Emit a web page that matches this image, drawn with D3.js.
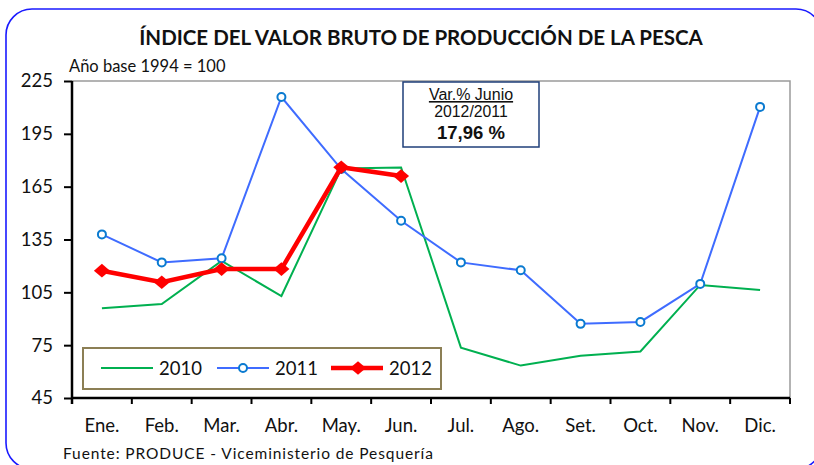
<!DOCTYPE html>
<html>
<head>
<meta charset="utf-8">
<script src="https://cdn.jsdelivr.net/npm/d3@7"></script>
<style>
  body { margin: 0; background: #fff; }
</style>
</head>
<body>
<script>
var months = ["Ene.", "Feb.", "Mar.", "Abr.", "May.", "Jun.", "Jul.", "Ago.", "Set.", "Oct.", "Nov.", "Dic."];
var yTicks = [45, 75, 105, 135, 165, 195, 225];

var values2010 = [96.0, 98.4, 122.8, 102.9, 175.3, 175.9, 73.6, 63.4, 69.0, 71.4, 109.2, 106.3];
var values2011 = [137.9, 122.0, 124.3, 215.9, 175.0, 145.6, 122.0, 117.5, 87.1, 88.2, 109.8, 210.3];
var values2012 = [117.3, 110.7, 118.2, 118.2, 176.0, 171.0];

var seriesNames = ["2010", "2011", "2012"];

var screen = {width: 814, height: 465};
var plot = {left: 72, right: 790, top: 81, bottom: 398};
var arial = "'Liberation Sans', Arial, sans-serif";

var svg = d3.select("body")
            .append("svg")
            .attr("width", screen.width)
            .attr("height", screen.height)
            .attr("font-family", "Lato, 'Open Sans', sans-serif");

// outer rounded frame
svg.append("rect")
   .attr("x", 6)
   .attr("y", 9)
   .attr("width", 816)
   .attr("height", 460)
   .attr("rx", 26)
   .attr("fill", "white")
   .attr("stroke", "#1a1aff")
   .attr("stroke-width", 1.6);

svg.append("text")
   .attr("x", 421)
   .attr("y", 45)
   .attr("text-anchor", "middle")
   .attr("font-weight", "bold")
   .attr("font-size", 20.5)
   .attr("fill", "#111")
   .text("ÍNDICE DEL VALOR BRUTO DE PRODUCCIÓN  DE LA PESCA");

svg.append("text")
   .attr("x", 69)
   .attr("y", 72)
   .attr("font-size", 16.5)
   .attr("fill", "#111")
   .text("Año base 1994 = 100");

svg.append("text")
   .attr("x", 63)
   .attr("y", 459)
   .attr("font-size", 15.5)
   .attr("letter-spacing", 0.9)
   .attr("fill", "#111")
   .text("Fuente:  PRODUCE - Viceministerio de Pesquería");

var x = d3.scaleBand()
          .domain(months)
          .range([plot.left, plot.right]);

var y = d3.scaleLinear()
          .domain([45, 225])
          .range([plot.bottom, plot.top]);

// plot frame (top and right in grey)
svg.append("path")
   .attr("d", "M" + plot.left + "," + plot.top + "H" + plot.right + "V" + plot.bottom)
   .attr("fill", "none")
   .attr("stroke", "#9a9a9a")
   .attr("stroke-width", 1.5);

var yAxis = svg.append("g")
               .attr("transform", "translate(" + plot.left + ",0)")
               .call(d3.axisLeft(y).tickValues(yTicks).tickSize(8).tickPadding(11));

var xAxis = svg.append("g")
               .attr("transform", "translate(0," + plot.bottom + ")")
               .call(d3.axisBottom(x).tickSize(0).tickPadding(21));

// category boundary ticks
svg.append("g")
   .selectAll("line")
   .data(d3.range(months.length + 1))
   .enter()
   .append("line")
   .attr("x1", function(d) {return plot.left + d * x.step();})
   .attr("x2", function(d) {return plot.left + d * x.step();})
   .attr("y1", plot.bottom)
   .attr("y2", plot.bottom + 6)
   .attr("stroke", "black")
   .attr("stroke-width", 2);

[yAxis, xAxis].forEach(function(ax) {
  ax.select(".domain").attr("stroke", "black").attr("stroke-width", 2.5);
  ax.selectAll(".tick line").attr("stroke", "black").attr("stroke-width", 2);
  ax.selectAll("text")
    .attr("font-family", "Lato, sans-serif")
    .attr("font-size", 18.5)
    .attr("fill", "#111");
});
xAxis.select(".domain").attr("d", "M" + plot.left + ",0H" + plot.right);
yAxis.select(".domain").attr("d", "M0," + plot.top + "V" + (plot.bottom + 6));

var cx = function(d, i) {return x(months[i]) + x.bandwidth() / 2;};
var line = d3.line()
             .x(function(d, i) {return cx(d, i);})
             .y(function(d) {return y(d);});

svg.append("path")
   .datum(values2010)
   .attr("d", line)
   .attr("fill", "none")
   .attr("stroke", "#00b050")
   .attr("stroke-width", 2);

svg.append("path")
   .datum(values2011)
   .attr("d", line)
   .attr("fill", "none")
   .attr("stroke", "#3f6cff")
   .attr("stroke-width", 2);

svg.append("g")
   .selectAll("circle")
   .data(values2011)
   .enter()
   .append("circle")
   .attr("cx", cx)
   .attr("cy", function(d) {return y(d);})
   .attr("r", 4)
   .attr("fill", "white")
   .attr("stroke", "#0a7ad0")
   .attr("stroke-width", 2);

svg.append("path")
   .datum(values2012)
   .attr("d", line)
   .attr("fill", "none")
   .attr("stroke", "#ff0000")
   .attr("stroke-width", 4.5);

// wide diamond like the spreadsheet marker
var diamond = function(s) {
  return "M0," + (-s * 0.85) + "L" + s + ",0L0," + (s * 0.85) + "L" + (-s) + ",0Z";
};

svg.append("g")
   .selectAll("path")
   .data(values2012)
   .enter()
   .append("path")
   .attr("d", diamond(8))
   .attr("transform", function(d, i) {return "translate(" + cx(d, i) + "," + y(d) + ")";})
   .attr("fill", "#ff0000");

// annotation box
var note = svg.append("g").attr("font-family", arial).attr("fill", "#111");
note.append("rect")
    .attr("x", 403)
    .attr("y", 82)
    .attr("width", 136)
    .attr("height", 65)
    .attr("fill", "white")
    .attr("stroke", "#1f3f7a")
    .attr("stroke-width", 1.5);

note.append("text")
    .attr("x", 471)
    .attr("y", 100)
    .attr("text-anchor", "middle")
    .attr("font-size", 16)
    .attr("text-decoration", "underline")
    .text("Var.% Junio");

note.append("text")
    .attr("x", 471)
    .attr("y", 117)
    .attr("text-anchor", "middle")
    .attr("font-size", 15.8)
    .text("2012/2011");

note.append("text")
    .attr("x", 471)
    .attr("y", 139)
    .attr("text-anchor", "middle")
    .attr("font-weight", "bold")
    .attr("font-size", 18.5)
    .text("17,96 %");

// legend
var legend = svg.append("g");
legend.append("rect")
      .attr("x", 83)
      .attr("y", 348)
      .attr("width", 358)
      .attr("height", 41)
      .attr("fill", "white")
      .attr("stroke", "#8c7f55")
      .attr("stroke-width", 2);

var legendX = [101, 217, 331];
var legendColor = ["#00b050", "#3f6cff", "#ff0000"];
var legendWidth = [2, 2, 4.5];

seriesNames.forEach(function(name, i) {
  legend.append("line")
        .attr("x1", legendX[i])
        .attr("x2", legendX[i] + 52)
        .attr("y1", 368)
        .attr("y2", 368)
        .attr("stroke", legendColor[i])
        .attr("stroke-width", legendWidth[i]);
  legend.append("text")
        .attr("x", legendX[i] + 58)
        .attr("y", 375)
        .attr("font-size", 18.5)
        .attr("fill", "#111")
        .text(name);
});

legend.append("circle")
      .attr("cx", legendX[1] + 26)
      .attr("cy", 368)
      .attr("r", 4)
      .attr("fill", "white")
      .attr("stroke", "#0a7ad0")
      .attr("stroke-width", 2);

legend.append("path")
      .attr("d", diamond(8))
      .attr("transform", "translate(" + (legendX[2] + 27) + ",368)")
      .attr("fill", "#ff0000");
</script>
</body>
</html>
